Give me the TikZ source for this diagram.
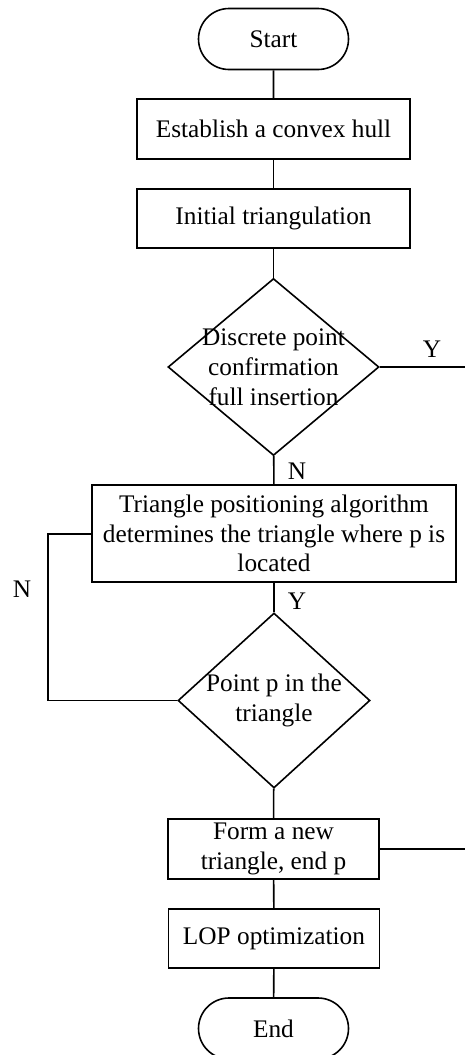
\documentclass[tikz,border=0pt]{standalone}
\usepackage{fontspec}
\setmainfont{Liberation Serif}
\usetikzlibrary{shapes.geometric,shapes.misc}
\begin{document}
\begin{tikzpicture}[x=1pt,y=-1pt,
  every node/.style={font=\fontsize{25.3}{29.5}\selectfont},
  base/.style={draw,line width=1.6pt,inner sep=0pt,align=center},
  term/.style={base,rounded rectangle,minimum width=150pt,minimum height=61pt},
  proc/.style={base,rectangle},
  dec/.style={base,diamond},
  conn/.style={line width=1.6pt}]
\useasboundingbox (0,0) rectangle (465,1055);
\node[term] (start) at (273.5,39) {Start};
\node[proc,minimum width=273pt,minimum height=60pt] (b1) at (273.5,129) {Establish a convex hull};
\node[proc,minimum width=273pt,minimum height=59pt] (b2) at (273.5,218.5) {Initial triangulation};
\node[dec,minimum width=211pt,minimum height=177pt,
  label={[align=center,font=\fontsize{25.3}{30}\selectfont]center:Discrete point\\confirmation\\full insertion}] (d1) at (273.5,367) {};
\node[proc,minimum width=364pt,minimum height=97pt] (b3) at (274,533.5) {Triangle positioning algorithm\\determines the triangle where p is\\located};
\node[dec,minimum width=192pt,minimum height=175pt,
  label={[align=center,font=\fontsize{25.3}{30}\selectfont]center:Point p in the\\triangle}] (d2) at (274,700.5) {};
\node[proc,minimum width=211pt,minimum height=60pt] (b4) at (273.5,849) {Form a new\\triangle, end p};
\node[proc,minimum width=211pt,minimum height=59pt] (b5) at (274,938.5) {LOP optimization};
\node[term,minimum width=150pt] (end) at (273.5,1028.5) {End};
\coordinate (d1r) at (465,367);
\coordinate (b4r) at (465,849);
\coordinate (lt) at (48,534);
\coordinate (lb) at (48,700.5);
\draw[conn] (start) -- (b1);
\draw[conn] (b1) -- (b2);
\draw[conn] (b2) -- (d1);
\draw[conn] (d1) -- (b3);
\draw[conn] (b3) -- (d2);
\draw[conn] (d2) -- (b4);
\draw[conn] (b4) -- (b5);
\draw[conn] (b5) -- (end);
\draw[conn] (d1.east) -- (d1r);
\draw[conn] (b4.east) -- (b4r);
\draw[conn] (b3.west |- lt) -- (lt) -- (lb) -- (d2.west);
\node (ly1) at (432,349) {Y};
\node (ln1) at (297,471) {N};
\node (ly2) at (297,601) {Y};
\node (ln2) at (22,589) {N};
\end{tikzpicture}
\end{document}
